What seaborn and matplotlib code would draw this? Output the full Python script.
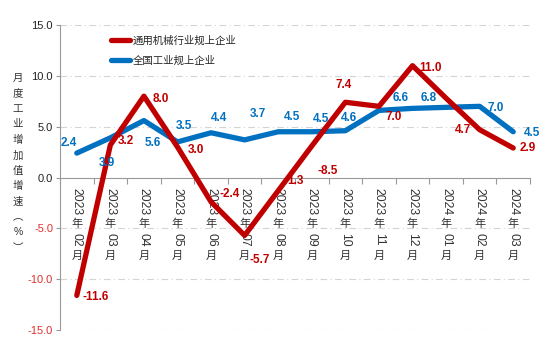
import re
import numpy as np
import pandas as pd
import seaborn as sns
import matplotlib
matplotlib.use("Agg")
import matplotlib.pyplot as plt

months = ["2023年02月", "2023年03月", "2023年04月", "2023年05月", "2023年06月", "2023年07月",
          "2023年08月", "2023年09月", "2023年10月", "2023年11月", "2023年12月", "2024年01月",
          "2024年02月", "2024年03月"]
machinery = [-11.6, 3.2, 8.0, 3.0, -2.4, -5.7, -1.3, 3.1, 7.4, 7.0, 11.0, 7.8, 4.7, 2.9]
national = [2.4, 3.9, 5.6, 3.5, 4.4, 3.7, 4.5, 4.5, 4.6, 6.6, 6.8, 6.9, 7.0, 4.5]
machinery_labels = ["-11.6", "3.2", "8.0", "3.0", "-2.4", "-5.7", "1.3", "-8.5", "7.4", "7.0",
                    "11.0", "", "4.7", "2.9"]
national_labels = ["2.4", "3.9", "5.6", "3.5", "4.4", "3.7", "4.5", "4.5", "4.6", "6.6",
                   "6.8", "", "7.0", "4.5"]
name_machinery = "通用机械行业规上企业"
name_national = "全国工业规上企业"
y_ticks = [15.0, 10.0, 5.0, 0.0, -5.0, -10.0, -15.0]
y_label = "月度工业增加值增速︵%︶"

# label offsets in pixels (layout only; +y is up)
red_off = [(19, -2), (16, 4), (17, -3), (18, -3), (19, 8), (15, -25), (17, 10), (16, -25),
           (-2, 17), (15, -11), (18, -2), (0, 0), (-17, 0), (15, 0)]
blue_off = [(-8, 10), (-3, -25), (9, -22), (6, 16), (8, 15), (13, 26), (14, 15), (9, 13),
            (4, 13), (22, 12), (16, 10), (0, 0), (16, -2), (19, -1)]

sns.set_theme(style="white")
plt.rcParams['font.family'] = ['Liberation Sans', 'Noto Sans CJK SC', 'DejaVu Sans']

RED = "#C00000"
BLUE = "#0070C0"

x = np.arange(len(months))
df = pd.DataFrame({"x": np.concatenate([x, x]),
                   "value": machinery + national,
                   "series": [name_machinery] * len(x) + [name_national] * len(x)})

fig = plt.figure(figsize=(5.51, 3.45), dpi=100)
ax = fig.add_axes([60 / 551, 15 / 345, 470 / 551, 305 / 345])

sns.lineplot(data=df[df.series == name_national], x="x", y="value", color=BLUE,
             linewidth=3.8, ax=ax, label=name_national, zorder=3)
sns.lineplot(data=df[df.series == name_machinery], x="x", y="value", color=RED,
             linewidth=3.8, ax=ax, label=name_machinery, zorder=4)

ax.set_xlim(-0.5, len(months) - 0.5)
ax.set_ylim(-15, 15)
ax.set_yticks(y_ticks)
ax.set_yticklabels([f"{v:.1f}" for v in y_ticks], fontsize=8)
for lab, v in zip(ax.get_yticklabels(), y_ticks):
    lab.set_color("#E03030" if v < 0 else "#222222")
ax.tick_params(axis='y', which='major', length=3, width=0.8, color="#999999", pad=2, left=True)

for v in y_ticks:
    if v != 0:
        ax.axhline(v, color="#D4D4D4", linewidth=0.8, linestyle=(0, (6, 3, 1, 3)), zorder=0)

ax.spines['top'].set_visible(False)
ax.spines['right'].set_visible(False)
ax.spines['left'].set_color("#999999")
ax.spines['left'].set_linewidth(0.8)
ax.spines['bottom'].set_position(('data', 0))
ax.spines['bottom'].set_color("#999999")
ax.spines['bottom'].set_linewidth(0.8)

ax.set_xticks(x)
ax.set_xticklabels([])
ax.tick_params(axis='x', which='major', length=0)
ax.set_xticks(np.arange(-0.5, len(months), 1.0), minor=True)
ax.tick_params(axis='x', which='minor', length=4, width=0.8, color="#999999", bottom=True, direction='out')

# vertical (East Asian style) category labels: digits rotated, CJK upright
FS = 8.8
px = FS * 100 / 72.0
for xi, m in zip(x, months):
    pos = 10
    for seg in re.findall(r"\d+|\D", m):
        if seg.isdigit():
            h = len(seg) * 0.556 * px
            ax.annotate(seg, (xi, 0), xytext=(0, -pos), textcoords='offset pixels',
                        rotation=-90, ha='center', va='top', fontsize=FS, color="#333333")
        else:
            h = px
            ax.annotate(seg, (xi, 0), xytext=(0, -pos - 1), textcoords='offset pixels',
                        ha='center', va='top', fontsize=FS - 0.8, color="#333333")
        pos += h + 3

ax.set_xlabel("")
ax.set_ylabel("")
fig.text(18 / 551, 1 - 163 / 345, "\n".join(y_label), ha='center', va='center',
         fontsize=7.5, color="#333333", linespacing=1.66)

for xi, v, lab, off in zip(x, machinery, machinery_labels, red_off):
    if lab:
        ax.annotate(lab, (xi, v), xytext=off, textcoords='offset pixels', ha='center',
                    va='center', fontsize=8.5, fontweight='bold', color=RED, zorder=6)
for xi, v, lab, off in zip(x, national, national_labels, blue_off):
    if lab:
        ax.annotate(lab, (xi, v), xytext=off, textcoords='offset pixels', ha='center',
                    va='center', fontsize=8.5, fontweight='bold', color=BLUE, zorder=6)

handles, labels = ax.get_legend_handles_labels()
order = [labels.index(name_machinery), labels.index(name_national)]
leg = ax.legend([handles[i] for i in order], [labels[i] for i in order],
                loc='upper left', bbox_to_anchor=(0.108, 0.965), frameon=False,
                fontsize=7.5, handlelength=1.8, handletextpad=0.3, labelspacing=0.9,
                borderpad=0, borderaxespad=0)

fig.savefig("out.png", dpi=100)
